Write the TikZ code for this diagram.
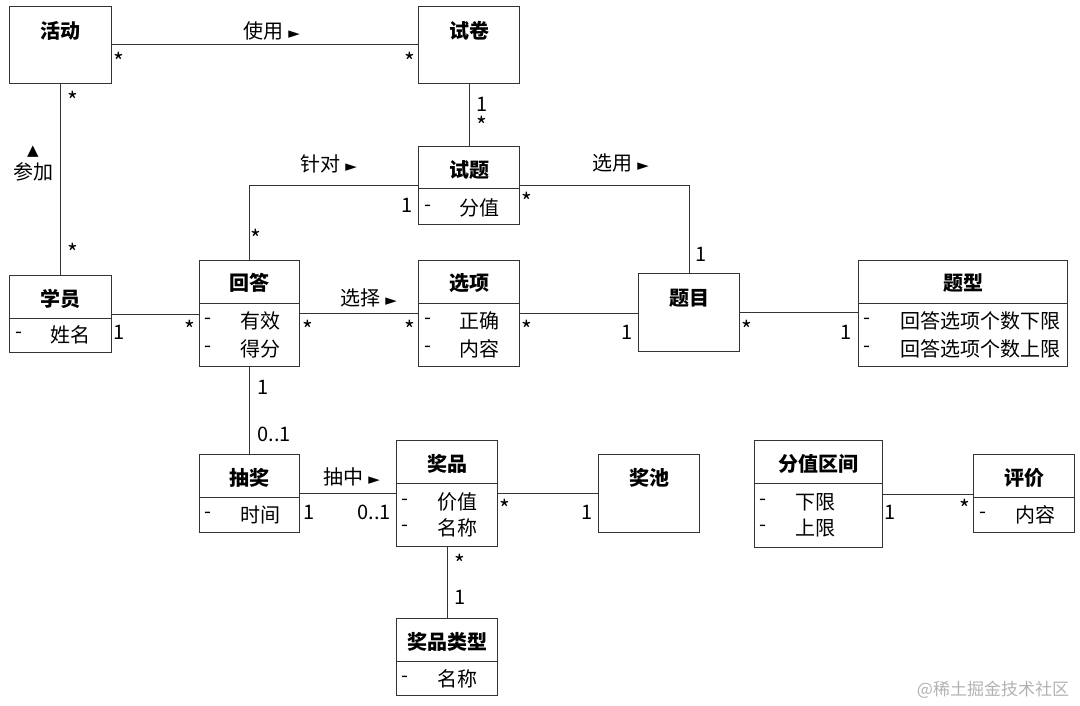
\documentclass[tikz,border=0pt]{standalone}
\usepackage{fontspec}
\setmainfont{Noto Sans CJK SC}
\newfontfamily\symfont{DejaVu Sans}

\tikzset{
  klass/.style={draw=black!80, line width=1pt, inner sep=0pt, anchor=north west},
  ktitle/.style={font=\fontsize{20}{24}\selectfont\bfseries},
  attr/.style={anchor=west, inner sep=0pt},
  attrdash/.style={inner sep=0pt},
  mult/.style={inner sep=0pt},
  star/.style={inner sep=0pt, font=\fontsize{23}{24}\selectfont},
  assoc/.style={draw=black!80, line width=1pt},
}
\newcommand{\tri}{{\symfont\fontsize{15}{15}\selectfont ►}}
\newcommand{\uptri}{{\symfont\fontsize{15}{15}\selectfont ▲}}

\begin{document}
\begin{tikzpicture}[x=1pt, y=-1pt, font=\fontsize{20}{24}\selectfont]
\useasboundingbox (0,0) rectangle (1080,706);
%
% classes
\node[klass, minimum width=102pt, minimum height=77pt]  (hd)  at (9,6)     {};
\node[klass, minimum width=101pt, minimum height=77pt]  (sj)  at (418,6)   {};
\node[klass, minimum width=101pt, minimum height=78pt]  (st)  at (418,146) {};
\node[klass, minimum width=102pt, minimum height=77pt]  (xy)  at (9,275)   {};
\node[klass, minimum width=100pt, minimum height=106pt] (hdA) at (199,260) {};
\node[klass, minimum width=101pt, minimum height=106pt] (xx)  at (418,260) {};
\node[klass, minimum width=101pt, minimum height=78pt]  (tm)  at (638,273) {};
\node[klass, minimum width=209pt, minimum height=106pt] (tx)  at (858,260) {};
\node[klass, minimum width=100pt, minimum height=78pt]  (cj)  at (199,454) {};
\node[klass, minimum width=101pt, minimum height=106pt] (jp)  at (396,440) {};
\node[klass, minimum width=101pt, minimum height=78pt]  (jc)  at (598,454) {};
\node[klass, minimum width=101pt, minimum height=77pt]  (lx)  at (396,618) {};
\node[klass, minimum width=128pt, minimum height=107pt] (fq)  at (754,440) {};
\node[klass, minimum width=101pt, minimum height=78pt]  (pj)  at (973,454) {};
%
% titles
\node[ktitle] (hd-t)  at ([yshift=-25pt]hd.north)  {活动};
\node[ktitle] (sj-t)  at ([yshift=-25pt]sj.north)  {试卷};
\node[ktitle] (st-t)  at ([yshift=-24pt]st.north)  {试题};
\node[ktitle] (xy-t)  at ([yshift=-24pt]xy.north)  {学员};
\node[ktitle] (hdA-t) at ([yshift=-23pt]hdA.north) {回答};
\node[ktitle] (xx-t)  at ([yshift=-23pt]xx.north)  {选项};
\node[ktitle] (tm-t)  at ([yshift=-25pt]tm.north)  {题目};
\node[ktitle] (tx-t)  at ([yshift=-23pt]tx.north)  {题型};
\node[ktitle] (cj-t)  at ([yshift=-24pt]cj.north)  {抽奖};
\node[ktitle] (jp-t)  at ([yshift=-24pt]jp.north)  {奖品};
\node[ktitle] (jc-t)  at ([yshift=-24pt]jc.north)  {奖池};
\node[ktitle] (lx-t)  at ([yshift=-24pt]lx.north)  {奖品类型};
\node[ktitle] (fq-t)  at ([yshift=-24pt]fq.north)  {分值区间};
\node[ktitle] (pj-t)  at ([yshift=-24pt]pj.north)  {评价};
%
% dividers
\foreach \k in {st,xy,hdA,xx,tx,cj,jp,lx,fq,pj}
  \draw[assoc] ([yshift=-43pt]\k.north west) -- ([yshift=-43pt]\k.north east);
%
% attributes
\node[attrdash] (st-d1)  at (428,208) {-};  \node[attr] (st-a1)  at (459,208) {分值};
\node[attrdash] (xy-d1)  at (19,335)  {-};  \node[attr] (xy-a1)  at (50,335)  {姓名};
\node[attrdash] (hdA-d1) at (208,321) {-};  \node[attr] (hdA-a1) at (240,321) {有效};
\node[attrdash] (hdA-d2) at (208,349) {-};  \node[attr] (hdA-a2) at (240,349) {得分};
\node[attrdash] (xx-d1)  at (428,321) {-};  \node[attr] (xx-a1)  at (459,321) {正确};
\node[attrdash] (xx-d2)  at (428,349) {-};  \node[attr] (xx-a2)  at (459,349) {内容};
\node[attrdash] (tx-d1)  at (867,321) {-};  \node[attr] (tx-a1)  at (900,321) {回答选项个数下限};
\node[attrdash] (tx-d2)  at (867,349) {-};  \node[attr] (tx-a2)  at (900,349) {回答选项个数上限};
\node[attrdash] (cj-d1)  at (208,515) {-};  \node[attr] (cj-a1)  at (240,515) {时间};
\node[attrdash] (jp-d1)  at (405,502) {-};  \node[attr] (jp-a1)  at (437,502) {价值};
\node[attrdash] (jp-d2)  at (405,528) {-};  \node[attr] (jp-a2)  at (437,528) {名称};
\node[attrdash] (lx-d1)  at (405,679) {-};  \node[attr] (lx-a1)  at (437,679) {名称};
\node[attrdash] (fq-d1)  at (763,502) {-};  \node[attr] (fq-a1)  at (795,502) {下限};
\node[attrdash] (fq-d2)  at (763,528) {-};  \node[attr] (fq-a2)  at (795,528) {上限};
\node[attrdash] (pj-d1)  at (983,515) {-};  \node[attr] (pj-a1)  at (1015,515) {内容};
%
% associations
\draw[assoc] (hd.east) -- (sj.west);
\draw[assoc] (hd.south) -- (xy.north);
\draw[assoc] (sj.south) -- (st.north);
\draw[assoc] (st.west) -| (hdA.north);
\draw[assoc] (st.east) -| (tm.north);
\draw[assoc] (xy.east) -- (xy.east -| hdA.west);
\draw[assoc] (hdA.east) -- (xx.west);
\draw[assoc] (xx.east) -- (xx.east -| tm.west);
\draw[assoc] (tm.east) -- (tm.east -| tx.west);
\draw[assoc] (hdA.south) -- (cj.north);
\draw[assoc] (cj.east) -- (cj.east -| jp.west);
\draw[assoc] (jp.east) -- (jp.east -| jc.west);
\draw[assoc] (jp.south) -- (lx.north);
\draw[assoc] (fq.east) -- (fq.east -| pj.west);
%
% association names
\node (l-use)    at (272,31)  {使用 \tri};
\node (l-join-a) at (33,152)  {\uptri};
\node (l-join)   at (33,172)  {参加};
\node (l-for)    at (329,164) {针对 \tri};
\node (l-pick)   at (621,163) {选用 \tri};
\node (l-sel)    at (369,298) {选择 \tri};
\node (l-draw)   at (352,477) {抽中 \tri};
%
% multiplicities
\node[star] (m1)  at (119,61)  {*};
\node[star] (m2)  at (410,61)  {*};
\node[star] (m3)  at (73,100)  {*};
\node[star] (m4)  at (73,252)  {*};
\node[mult] (m5)  at (482,104) {1};
\node[star] (m6)  at (482,125) {*};
\node[mult] (m7)  at (407,205) {1};
\node[star] (m8)  at (256,238) {*};
\node[star] (m9)  at (527,201) {*};
\node[mult] (m10) at (701,254) {1};
\node[mult] (m11) at (119,332) {1};
\node[star] (m12) at (190,329) {*};
\node[star] (m13) at (308,329) {*};
\node[star] (m14) at (410,329) {*};
\node[star] (m15) at (527,329) {*};
\node[mult] (m16) at (627,332) {1};
\node[star] (m17) at (747,329) {*};
\node[mult] (m18) at (846,332) {1};
\node[mult] (m19) at (263,387) {1};
\node[mult] (m20) at (274,434) {0..1};
\node[mult] (m21) at (309,512) {1};
\node[mult] (m22) at (374,512) {0..1};
\node[star] (m23) at (505,508) {*};
\node[mult] (m24) at (587,512) {1};
\node[star] (m25) at (460,563) {*};
\node[mult] (m26) at (460,597) {1};
\node[mult] (m27) at (890,512) {1};
\node[star] (m28) at (965,508) {*};
%
\node[text=black!30, font=\fontsize{17}{20}\selectfont] (wm) at (993,690) {@稀土掘金技术社区};
\end{tikzpicture}
\end{document}
